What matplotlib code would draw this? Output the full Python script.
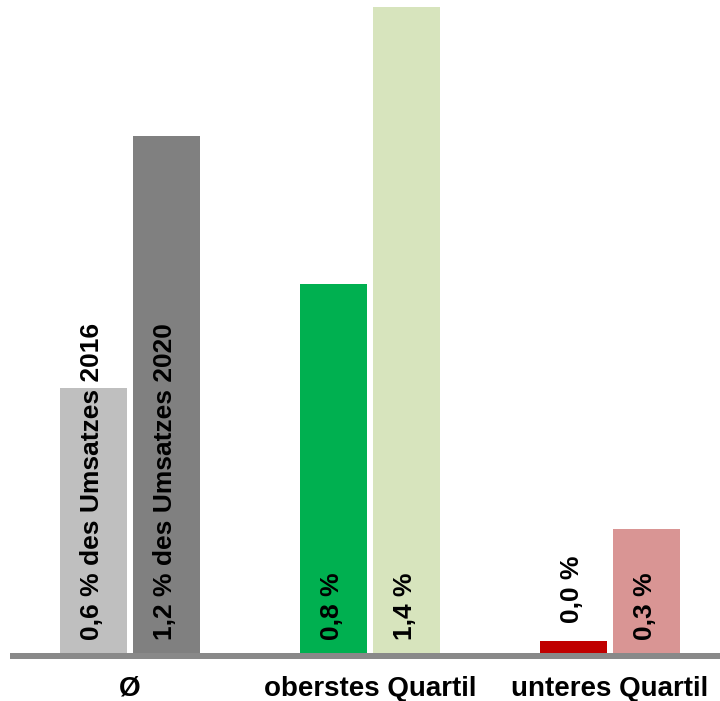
import matplotlib
matplotlib.use("Agg")
import matplotlib.pyplot as plt
from matplotlib.lines import Line2D

plt.rcParams['font.family'] = ['Liberation Sans', 'DejaVu Sans']

# Share of revenue (percent) by group, 2016 vs 2020
categories = ["Ø", "oberstes Quartil", "unteres Quartil"]
values_2016 = [0.593, 0.826, 0.027]
values_2020 = [1.157, 1.445, 0.277]
colors_2016 = ["#BFBFBF", "#00B050", "#C00000"]
colors_2020 = ["#808080", "#D7E4BD", "#D99594"]
label_suffix_2016 = [" des Umsatzes 2016", "", ""]
label_suffix_2020 = [" des Umsatzes 2020", "", ""]

W, H, DPI = 720, 701, 100
fig = plt.figure(figsize=(W / DPI, H / DPI), dpi=DPI)

base_px = 653          # baseline (pixels from top)
px_per_unit = 447.0    # vertical scale
ax = fig.add_axes([10 / W, (H - base_px) / H, 710 / W, base_px / H])
ax.set_xlim(-0.5, 2.4583)
ax.set_ylim(0, base_px / px_per_unit)
ax.axis("off")

bw = 67 / 240
off = 36.5 / 240
fs = 19


def fmt(v):
    return f"{v:.1f}".replace(".", ",") + " %"


for i, cat in enumerate(categories):
    for x, v, c, suf in ((i - off, values_2016[i], colors_2016[i], label_suffix_2016[i]),
                         (i + off, values_2020[i], colors_2020[i], label_suffix_2020[i])):
        ax.bar(x, v, width=bw, color=c, edgecolor="none", zorder=2)
        bar_px = v * px_per_unit
        start_px = max(13, bar_px + 18) if bar_px < 20 else 13
        ax.annotate(fmt(v) + suf, (x, 0), xytext=(-1, start_px * 72 / DPI),
                    textcoords="offset points", rotation=90,
                    ha="center", va="bottom", fontsize=fs,
                    fontweight="bold", color="black", zorder=3)
    ax.text(i, -(696 - base_px) / px_per_unit, cat, ha="center", va="baseline",
            fontsize=20, fontweight="bold", color="black")

# baseline
fig.add_artist(Line2D([10 / W, 1.0], [(H - 656) / H, (H - 656) / H],
                      transform=fig.transFigure, color="#898989",
                      linewidth=6 * 72 / DPI, solid_capstyle="butt"))

fig.savefig("out.png", dpi=DPI)
